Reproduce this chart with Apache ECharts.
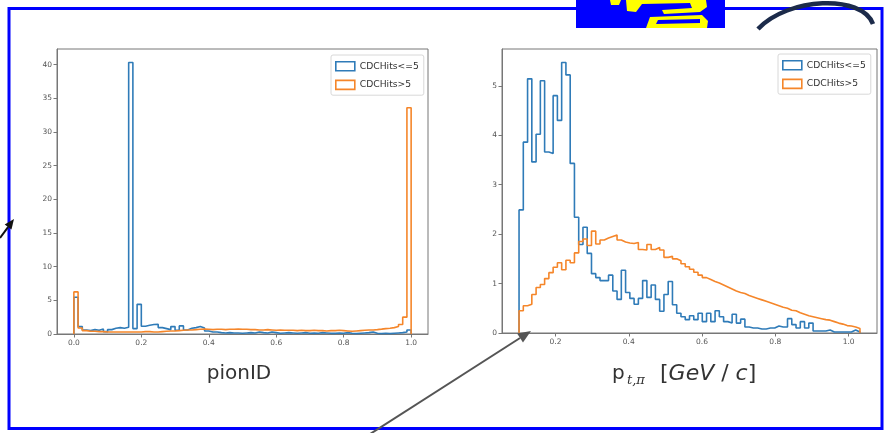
<!DOCTYPE html>
<html>
<head>
<meta charset="utf-8">
<script src="https://cdn.jsdelivr.net/npm/echarts@6/dist/echarts.min.js"></script>
<style>
html, body { margin: 0; padding: 0; background: #fff; }
#chart { width: 885px; height: 433px; }
</style>
</head>
<body>
<div id="chart"></div>
<script>
// series names shared by both histograms
var seriesNames = ['CDCHits<=5', 'CDCHits>5'];
var seriesColors = ['#2f7bb8', '#f5862a'];

// pionID: 80 bins between 0 and 1
var pionRange = [0, 1];
var pionLow = [
  5.45, 1.1, 0.6, 0.5, 0.65, 0.55, 0.75, 0.35, 0.65, 0.85,
  0.95, 0.85, 1.0, 40.3, 0.8, 4.4, 1.15, 1.3, 1.4, 1.45,
  0.95, 0.8, 0.65, 1.1, 0.55, 1.2, 0.6, 0.85, 0.95, 1.1,
  0.9, 0.45, 0.3, 0.3, 0.2, 0.15, 0.2, 0.15, 0.15, 0.1,
  0.15, 0.2, 0.15, 0.3, 0.2, 0.15, 0.3, 0.2, 0.1, 0.15,
  0.2, 0.15, 0.1, 0.15, 0.2, 0.1, 0.15, 0.1, 0.2, 0.15,
  0.1, 0.1, 0.15, 0.1, 0.2, 0.1, 0.05, 0.1, 0.15, 0.2,
  0.3, 0.1, 0.05, 0.1, 0.05, 0.1, 0.15, 0.2, 0.3, 0.6
];
var pionHigh = [
  6.25, 0.9, 0.5, 0.4, 0.4, 0.35, 0.35, 0.3, 0.3, 0.3,
  0.3, 0.3, 0.3, 0.3, 0.3, 0.3, 0.35, 0.35, 0.3, 0.3,
  0.35, 0.4, 0.45, 0.45, 0.5, 0.55, 0.6, 0.6, 0.65, 0.7,
  0.75, 0.7, 0.65, 0.7, 0.7, 0.65, 0.7, 0.7, 0.75, 0.7,
  0.7, 0.65, 0.65, 0.6, 0.6, 0.65, 0.6, 0.55, 0.6, 0.55,
  0.55, 0.55, 0.5, 0.55, 0.5, 0.5, 0.55, 0.5, 0.5, 0.45,
  0.5, 0.5, 0.55, 0.5, 0.45, 0.4, 0.45, 0.5, 0.55, 0.6,
  0.6, 0.65, 0.72, 0.8, 0.85, 0.95, 1.1, 1.4, 2.5, 33.6
];
var pionTicks = [0, 0.2, 0.4, 0.6, 0.8, 1.0];
var pionYTicks = [0, 5, 10, 15, 20, 25, 30, 35, 40];

// transverse momentum: 80 bins between 0.1004 and 1.031 GeV/c
var ptRange = [0.1004, 1.031];
var ptLow = [
  2.49, 3.86, 5.14, 3.46, 4.02, 5.10, 3.66, 3.63, 4.80, 4.30,
  5.47, 5.22, 3.43, 2.34, 1.79, 2.14, 1.61, 1.20, 1.12, 1.06,
  1.06, 1.17, 0.85, 0.68, 1.27, 0.82, 0.70, 0.58, 0.70, 1.06,
  0.72, 0.97, 0.68, 0.44, 0.78, 1.04, 0.57, 0.40, 0.33, 0.27,
  0.35, 0.27, 0.40, 0.23, 0.40, 0.23, 0.45, 0.33, 0.23, 0.20,
  0.38, 0.20, 0.28, 0.12, 0.10, 0.10, 0.08, 0.08, 0.10, 0.10,
  0.14, 0.12, 0.12, 0.29, 0.17, 0.10, 0.23, 0.10, 0.20, 0.04,
  0.04, 0.04, 0.06, 0.02, 0.02, 0.02, 0.02, 0.02, 0.06, 0.02
];
var ptHigh = [
  0.45, 0.55, 0.58, 0.78, 0.92, 0.98, 1.10, 1.22, 1.33, 1.42,
  1.28, 1.47, 1.42, 1.62, 1.85, 1.90, 1.77, 2.06, 1.80, 1.88,
  1.92, 1.95, 1.98, 1.88, 1.84, 1.82, 1.81, 1.83, 1.69, 1.68,
  1.79, 1.69, 1.73, 1.68, 1.53, 1.55, 1.50, 1.46, 1.40, 1.34,
  1.29, 1.23, 1.17, 1.12, 1.08, 1.04, 1.01, 0.97, 0.93, 0.89,
  0.85, 0.82, 0.80, 0.76, 0.73, 0.70, 0.67, 0.64, 0.61, 0.58,
  0.55, 0.52, 0.50, 0.46, 0.45, 0.41, 0.38, 0.35, 0.33, 0.31,
  0.29, 0.27, 0.26, 0.23, 0.20, 0.18, 0.15, 0.14, 0.12, 0.09
];
var ptTicks = [0.2, 0.4, 0.6, 0.8, 1.0];
var ptYTicks = [0, 1, 2, 3, 4, 5];

// outline of a step histogram, bin edges from the range
function stepData(range, h) {
  var w = (range[1] - range[0]) / h.length;
  var d = [[range[0], 0]];
  for (var i = 0; i < h.length; i++) {
    d.push([range[0] + i * w, h[i]]);
  }
  d.push([range[1], 0]);
  return d;
}

// matplotlib-like margins
function pad(range) {
  var m = (range[1] - range[0]) * 0.05;
  return [range[0] - m, range[1] + m];
}

var tickFont = { fontSize: 7.5, color: '#555', fontFamily: 'DejaVu Sans' };

function xAx(idx, range, ticks) {
  var p = pad(range);
  return {
    type: 'value', gridIndex: idx, min: p[0], max: p[1],
    splitLine: { show: false },
    axisLine: { onZero: false, lineStyle: { color: '#777', width: 1 } },
    axisTick: { customValues: ticks, length: 3.5, lineStyle: { color: '#777' } },
    axisLabel: Object.assign({
      customValues: ticks, margin: 5,
      formatter: function (v) { return v.toFixed(1); }
    }, tickFont)
  };
}

function yAx(idx, heights, ticks) {
  return {
    type: 'value', gridIndex: idx, min: 0,
    max: Math.max.apply(null, heights) * 1.05,
    splitLine: { show: false },
    axisLine: { show: true, onZero: false, lineStyle: { color: '#777', width: 1 } },
    axisTick: { show: true, customValues: ticks, length: 3.5, lineStyle: { color: '#777' } },
    axisLabel: Object.assign({ customValues: ticks, margin: 5 }, tickFont)
  };
}

function hist(name, color, idx, range, h) {
  return {
    name: name, type: 'line', step: 'end',
    xAxisIndex: idx, yAxisIndex: idx,
    data: stepData(range, h),
    symbol: 'none', silent: true, animation: false,
    lineStyle: { color: color, width: 1.6 },
    itemStyle: { color: color }
  };
}

function legendAt(left, top) {
  return {
    left: left, top: top, orient: 'vertical',
    icon: 'rect', itemWidth: 19, itemHeight: 9, itemGap: 8,
    padding: [6, 5, 5, 4],
    backgroundColor: '#fff', borderColor: '#d8d8d8', borderWidth: 1, borderRadius: 2,
    textStyle: { fontSize: 9.2, color: '#333', fontFamily: 'DejaVu Sans' },
    data: seriesNames.map(function (n, i) {
      return {
        name: n, icon: 'rect',
        itemStyle: { color: '#fff', borderColor: seriesColors[i], borderWidth: 1.6 }
      };
    })
  };
}

function arrow(x1, y1, x2, y2, color, w, head) {
  var dx = x2 - x1, dy = y2 - y1, len = Math.sqrt(dx * dx + dy * dy);
  var ux = dx / len, uy = dy / len;
  var bx = x2 - head * ux, by = y2 - head * uy;
  var hw = head * 0.42;
  return [{
    type: 'line', silent: true, z: 5,
    shape: { x1: x1, y1: y1, x2: bx, y2: by },
    style: { stroke: color, lineWidth: w }
  }, {
    type: 'polygon', silent: true, z: 5,
    shape: { points: [[x2, y2], [bx - uy * hw, by + ux * hw], [bx + uy * hw, by - ux * hw]] },
    style: { fill: color }
  }];
}

var labelStyle = { fill: '#333', fontFamily: 'DejaVu Sans', fontSize: 20 };

var graphics = [
  { type: 'rect', silent: true, z: 1,
    shape: { x: 9, y: 8.5, width: 873, height: 420 },
    style: { fill: 'none', stroke: '#0000ff', lineWidth: 3 } },
  // logo
  { type: 'rect', silent: true, z: 2,
    shape: { x: 576, y: 0, width: 149, height: 28 }, style: { fill: '#0000ff' } },
  { type: 'polygon', silent: true, z: 3,
    shape: { points: [[610, 0], [621, 0], [619, 5], [611, 5]] }, style: { fill: '#ffff00' } },
  { type: 'polygon', silent: true, z: 3,
    shape: { points: [[626, 0], [706, 0], [707, 7], [700, 12], [664, 14], [662, 10], [692, 8], [690, 3], [642, 4], [636, 12], [627, 11]] },
    style: { fill: '#ffff00' } },
  { type: 'polygon', silent: true, z: 3,
    shape: { points: [[650, 17], [702, 15], [708, 21], [707, 28], [646, 28]] },
    style: { fill: '#ffff00' } },
  { type: 'polygon', silent: true, z: 3,
    shape: { points: [[658, 20], [700, 19], [700, 23], [656, 24]] },
    style: { fill: '#0000ff' } },
  { type: 'bezierCurve', silent: true, z: 3,
    shape: { x1: 758, y1: 29, cpx1: 788, cpy1: -3, cpx2: 862, cpy2: -6, x2: 873, y2: 24 },
    style: { stroke: '#1c2b4a', fill: 'none', lineWidth: 4.5 } },
  // axis titles
  { type: 'text', silent: true, z: 3, style: Object.assign({ x: 239, y: 374, text: 'pionID', align: 'center', verticalAlign: 'middle' }, labelStyle) },
  { type: 'text', silent: true, z: 3, style: Object.assign({ x: 612, y: 374, text: 'p', verticalAlign: 'middle' }, labelStyle) },
  { type: 'text', silent: true, z: 3, style: { x: 627, y: 381, text: 't,π', verticalAlign: 'middle', fill: '#333', fontFamily: 'DejaVu Serif', fontStyle: 'italic', fontSize: 13 } },
  { type: 'text', silent: true, z: 3,
    style: { x: 660, y: 374, verticalAlign: 'middle', text: '{n|[}{i|GeV}{n| / }{i|c}{n|]}',
      rich: { n: { fontSize: 22, fill: '#333', fontFamily: 'DejaVu Sans' },
              i: { fontSize: 22, fill: '#333', fontFamily: 'DejaVu Sans', fontStyle: 'italic' } } } }
]
  .concat(arrow(0, 238, 14, 219, '#111', 2, 10))
  .concat(arrow(367, 436, 531, 331, '#555', 2, 13));

var option = {
  backgroundColor: '#fff',
  animation: false,
  grid: [
    { left: 57, top: 49, width: 371, height: 285, show: true, borderColor: '#777', borderWidth: 1 },
    { left: 502, top: 49, width: 375, height: 284, show: true, borderColor: '#777', borderWidth: 1 }
  ],
  xAxis: [xAx(0, pionRange, pionTicks), xAx(1, ptRange, ptTicks)],
  yAxis: [yAx(0, pionLow, pionYTicks), yAx(1, ptLow, ptYTicks)],
  legend: [legendAt(331, 55), legendAt(778, 54)],
  series: [
    hist(seriesNames[0], seriesColors[0], 0, pionRange, pionLow),
    hist(seriesNames[1], seriesColors[1], 0, pionRange, pionHigh),
    hist(seriesNames[0], seriesColors[0], 1, ptRange, ptLow),
    hist(seriesNames[1], seriesColors[1], 1, ptRange, ptHigh)
  ],
  graphic: graphics
};

var myChart = echarts.init(document.getElementById('chart'));
myChart.setOption(option);
</script>
</body>
</html>
